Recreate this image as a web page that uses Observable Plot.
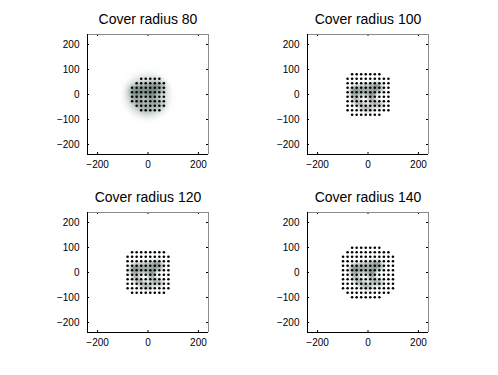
<!DOCTYPE html>
<html><head><meta charset="utf-8">
<script src="https://cdn.jsdelivr.net/npm/d3@7"></script>
<script src="https://cdn.jsdelivr.net/npm/@observablehq/plot@0.6"></script>
<style>
body{margin:0;background:#fff;}
#wrap{position:relative;width:498px;height:375px;font-family:"Liberation Sans",Arial,sans-serif;}
.title{position:absolute;width:220px;text-align:center;font-size:14px;line-height:16px;color:#000;}
.panel{position:absolute;}
</style></head><body><div id="wrap"></div>
<script>
const titles = ["Cover radius 80", "Cover radius 100", "Cover radius 120", "Cover radius 140"];
const xTicks = [-200, 0, 200];
const yTicks = [-200, -100, 0, 100, 200];
const axisDomain = [-240, 240];
const gridStep = 18;

// grid rows of cover points: [y, first x, last x]
const rows80  = [[63,-27,45],[45,-45,63],[27,-63,63],[9,-63,63],[-9,-63,63],[-27,-63,63],[-45,-45,63],[-63,-27,45]];
const rows100 = [[81,-63,45],[63,-81,81],[45,-81,81],[27,-81,81],[9,-81,81],[-9,-81,81],[-27,-81,81],[-45,-81,81],[-63,-81,81],[-81,-63,45]];
const rows120 = [[81,-63,63],[63,-81,81],[45,-81,81],[27,-81,81],[9,-81,81],[-9,-81,81],[-27,-81,81],[-45,-81,81],[-63,-81,81],[-81,-63,63]];
const rows140 = [[99,-63,45],[81,-81,81],[63,-99,99],[45,-99,99],[27,-99,99],[9,-99,99],[-9,-99,99],[-27,-99,99],[-45,-99,99],[-63,-99,99],[-81,-81,81],[-99,-63,45]];
const panelRows = [rows80, rows100, rows120, rows140];

// blurred image strokes (underlying picture)
const strokeTop   = [[-62,14],[-35,24],[-5,30],[25,34],[52,22]];
const strokeDiag  = [[38,36],[22,8],[10,-14],[28,-36],[48,-42]];
const strokeLeft  = [[-52,22],[-54,-8],[-38,-34],[-12,-52],[8,-56]];
const strokeMid   = [[-30,4],[-5,10],[18,2]];
const strokes = [strokeTop, strokeDiag, strokeLeft, strokeMid];
const haloCenter = [[-3, -5]];

const wrap = document.getElementById("wrap");
const pos = [[0, 0], [220, 0], [0, 178], [220, 178]];

function expandRows(rows) {
  const pts = [];
  for (const [y, x0, x1] of rows) for (let x = x0; x <= x1; x += gridStep) pts.push({x, y});
  return pts;
}

const strokeTable = strokes.flatMap((s, i) => s.map(([x, y]) => ({x, y, id: i})));

panelRows.forEach((rows, i) => {
  const [ox, oy] = pos[i];
  const t = document.createElement("div");
  t.className = "title";
  t.textContent = titles[i];
  t.style.left = (ox + 148 - 110) + "px";
  t.style.top = (oy + 11) + "px";
  wrap.appendChild(t);

  const marks = [];
  if (i === 0) {
    marks.push(Plot.dot(haloCenter, {x: d => d[0], y: d => d[1], r: 22, fill: "#8fa19d", fillOpacity: 0.32, stroke: null}));
  }
  marks.push(Plot.line(strokeTable, {x: "x", y: "y", z: "id", stroke: "#2e4743", strokeWidth: 5.5, strokeOpacity: i === 0 ? 0.6 : 0.45, strokeLinecap: "round", strokeLinejoin: "round", curve: "catmull-rom"}));
  marks.push(
    Plot.dot(expandRows(rows), {x: "x", y: "y", r: 1.3, fill: "#000", stroke: null}),
    Plot.tickX(xTicks, {insetTop: 118, stroke: "#000"}),
    Plot.tickX(xTicks, {insetBottom: 118, stroke: "#000"}),
    Plot.tickY(yTicks, {insetRight: 119, stroke: "#000"}),
    Plot.tickY(yTicks, {insetLeft: 119, stroke: "#000"}),
    Plot.ruleX([axisDomain[1]], {stroke: "#8a8a8a"}),
    Plot.ruleY([axisDomain[1]], {stroke: "#8a8a8a"}),
    Plot.ruleX([axisDomain[0]], {stroke: "#000"}),
    Plot.ruleY([axisDomain[0]], {stroke: "#000"})
  );

  const svg = Plot.plot({
    width: 230, height: 148,
    marginLeft: 87, marginRight: 22, marginTop: 6, marginBottom: 22,
    style: {fontSize: "10px", fontFamily: "'Liberation Sans', Arial, sans-serif", color: "#000", background: "transparent", overflow: "visible"},
    x: {domain: axisDomain, ticks: xTicks, tickSize: 0, tickPadding: 6, label: null},
    y: {domain: axisDomain, ticks: yTicks, tickSize: 0, tickPadding: 8, label: null},
    marks
  });
  const s = d3.select(svg);
  const defs = s.insert("defs", ":first-child");
  defs.append("filter").attr("id", "blur" + i).attr("x", "-50%").attr("y", "-50%").attr("width", "200%").attr("height", "200%")
    .append("feGaussianBlur").attr("stdDeviation", i === 0 ? 3.5 : 2.2);
  s.selectAll("g[aria-label='line']").attr("filter", `url(#blur${i})`);
  if (i === 0) {
    const dg = s.selectAll("g[aria-label='dot']").nodes();
    if (dg.length) d3.select(dg[0]).attr("filter", `url(#blur${i})`);
  }
  svg.classList.add("panel");
  svg.style.left = ox + "px";
  svg.style.top = (oy + 28) + "px";
  wrap.appendChild(svg);
});
</script>
</body></html>
